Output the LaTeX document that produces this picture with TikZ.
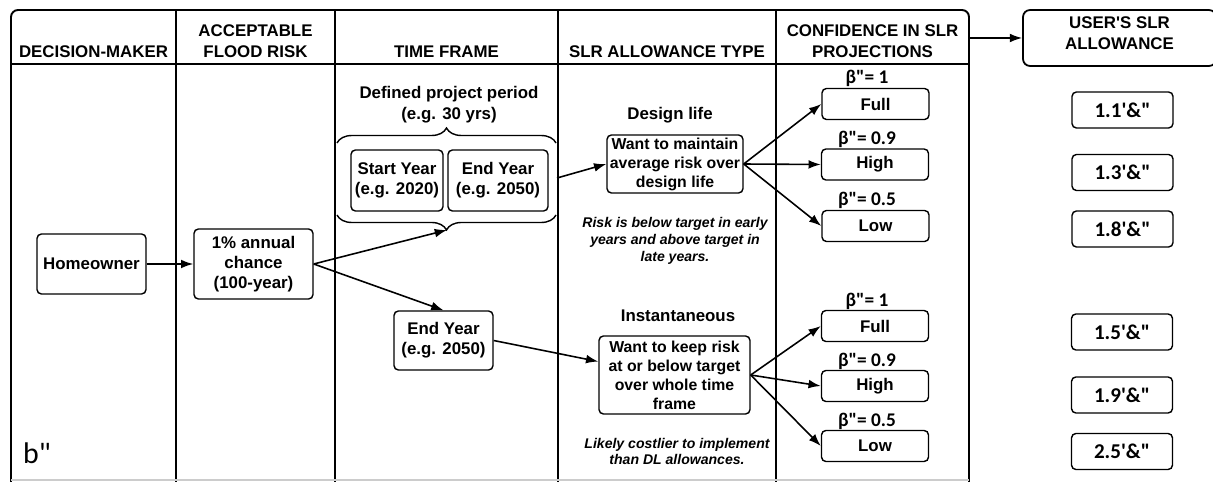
\documentclass[tikz,border=0pt]{standalone}
\usepackage{fontspec}
\setmainfont{Liberation Sans}
\newfontfamily\calfont{Carlito}
\usepackage{xcolor}
\usepackage{tikz}
\usetikzlibrary{positioning,arrows.meta,decorations.pathreplacing}

\begin{document}
\begin{tikzpicture}[x=0.02cm, y=-0.02cm, >={Latex[length=7pt,width=5pt]},
  boxnode/.style={draw, rounded corners=2.5pt, line width=0.8pt, align=center, inner sep=1pt, font=\fontsize{9.6}{11.5}\selectfont\bfseries},
  smallbox/.style={boxnode, font=\fontsize{9}{10.8}\selectfont\bfseries},
  headnode/.style={align=center, font=\fontsize{9.6}{12}\selectfont\bfseries},
  labelnode/.style={align=center, font=\fontsize{9.6}{12}\selectfont\bfseries},
  notenode/.style={align=center, font=\fontsize{8}{9.6}\selectfont\bfseries\itshape},
  betanode/.style={font=\calfont\fontsize{11}{13}\selectfont\bfseries},
  confnode/.style={boxnode, minimum width=2.14cm, minimum height=0.62cm},
  slrnode/.style={draw, rounded corners=2.5pt, line width=0.8pt, minimum width=2.02cm, minimum height=0.72cm, font=\calfont\fontsize{12}{14}\selectfont\bfseries},
  tableline/.style={line width=1.1pt},
  arrowline/.style={line width=0.9pt}]
\useasboundingbox (0,0) rectangle (1213,482);

% table
\draw[tableline, rounded corners=4pt] (11,482) -- (11,10) -- (969,10) -- (969,482);
\draw[tableline] (11,64) -- (969,64);
\foreach \x in {176,335,558,776}
  \draw[tableline] (\x,10) -- (\x,482);
\draw[gray!40, line width=0.6pt] (11,480) -- (969,480);

% headers
\node[headnode] at (93.5,52) (hdm) {DECISION-MAKER};
\node[headnode] at (255.5,41.5) (hrisk) {ACCEPTABLE\\FLOOD RISK};
\node[headnode] at (446.5,52) (htime) {TIME FRAME};
\node[headnode] at (667,52) (htype) {SLR ALLOWANCE TYPE};
\node[headnode] at (872.5,41.5) (hconf) {CONFIDENCE IN SLR\\PROJECTIONS};
\node[boxnode, font=\fontsize{9.6}{12}\selectfont\bfseries, rounded corners=4pt, line width=1pt, minimum width=3.86cm, minimum height=1.12cm, text depth=5.5pt] at (1119.5,38) (huser) {USER\textquotesingle S SLR\\ALLOWANCE};
\coordinate (confhead) at (969,38);

% decision-maker and risk
\node[boxnode, minimum width=2.18cm, minimum height=1.2cm] at (91.5,264) (home) {Homeowner};
\node[boxnode, minimum width=2.38cm, minimum height=1.4cm] at (253.5,264) (chance) {1\% annual\\chance\\(100-year)};

% time frame
\node[labelnode] at (449,105) (period) {Defined project period\\(e.g. 30 yrs)};
\draw[line width=0.8pt, decorate, decoration={brace, amplitude=0.3cm}] (337,143) -- (556,143);
\draw[line width=0.8pt, decorate, decoration={brace, amplitude=0.3cm}] (556,215) -- (337,215);
\coordinate (bracetip) at (447,230);
\coordinate (braceend) at (557,178);
\node[boxnode, minimum width=1.84cm, minimum height=1.22cm] at (397,180.5) (startyr) {Start Year\\(e.g. 2020)};
\node[boxnode, minimum width=2.0cm, minimum height=1.22cm] at (498,180.5) (endyr) {End Year\\(e.g. 2050)};
\node[boxnode, minimum width=1.98cm, minimum height=1.18cm] at (443.5,340.5) (endyrb) {End Year\\(e.g. 2050)};

% allowance type
\node[labelnode] at (670,115) (dlife) {Design life};
\node[smallbox, minimum width=2.72cm, minimum height=1.16cm] at (675,164) (design) {Want to maintain\\average risk over\\design life};
\node[notenode] at (675,241) (dnote) {Risk is below target in early\\years and above target in\\late years.};
\node[labelnode] at (678,316) (inst) {Instantaneous};
\node[smallbox, minimum width=3.02cm, minimum height=1.56cm] at (674.5,375) (instbox) {Want to keep risk\\at or below target\\over whole time\\frame};
\node[notenode] at (677,451.5) (inote) {Likely costlier to implement\\than DL allowances.};

% confidence
\node[betanode] at (867,78) (b1) {β"= 1};
\node[confnode] at (875.5,104) (full) {Full};
\node[betanode] at (867,139) (b2) {β"= 0.9};
\node[confnode] at (875,164.5) (high) {High};
\node[betanode] at (867,200) (b3) {β"= 0.5};
\node[confnode] at (875.5,226) (low) {Low};
\node[betanode] at (867,301) (b4) {β"= 1};
\node[confnode] at (875,326) (fullb) {Full};
\node[betanode] at (867,361) (b5) {β"= 0.9};
\node[confnode] at (875,386) (highb) {High};
\node[betanode] at (867,421) (b6) {β"= 0.5};
\node[confnode] at (875,446) (lowb) {Low};

% user's allowance
\node[slrnode] at (1122.5,110) (a1) {1.1\textquotesingle\&"};
\node[slrnode] at (1122.5,172.5) (a2) {1.3\textquotesingle\&"};
\node[slrnode] at (1122.5,229) (a3) {1.8\textquotesingle\&"};
\node[slrnode] at (1122,332) (a4) {1.5\textquotesingle\&"};
\node[slrnode] at (1122,395) (a5) {1.9\textquotesingle\&"};
\node[slrnode] at (1122,451.5) (a6) {2.5\textquotesingle\&"};

\node[anchor=west, font=\calfont\fontsize{17}{20}\selectfont] at (17,453) (panel) {b"};

% connectors
\draw[arrowline, ->] (confhead) -- (huser);
\draw[arrowline, ->] (home) -- (chance);
\draw[arrowline, ->] (chance.east) -- (bracetip);
\draw[arrowline, ->] (chance.east) -- (endyrb.north);
\draw[arrowline, ->] (braceend) -- (design.west);
\draw[arrowline, ->] (endyrb.east) -- (instbox.170);
\draw[arrowline, ->] (design.east) -- (full.west);
\draw[arrowline, ->] (design.east) -- (high.west);
\draw[arrowline, ->] (design.east) -- (low.west);
\draw[arrowline, ->] (instbox.east) -- (fullb.west);
\draw[arrowline, ->] (instbox.east) -- (highb.west);
\draw[arrowline, ->] (instbox.east) -- (lowb.west);

\end{tikzpicture}
\end{document}
